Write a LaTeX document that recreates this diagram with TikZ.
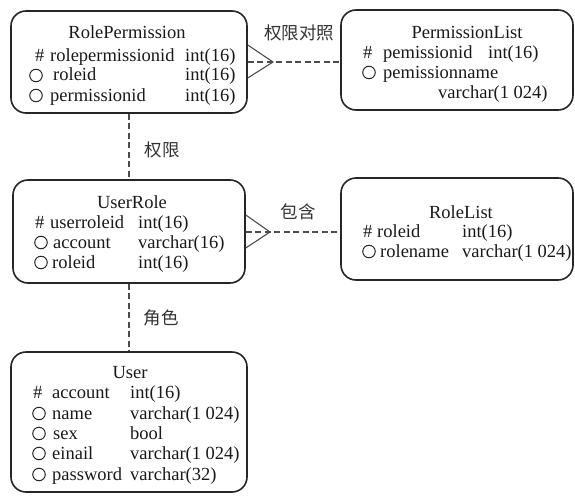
\documentclass[tikz,border=0pt]{standalone}
\usepackage{fontspec}
\setmainfont{Liberation Serif}
\newfontfamily\cjk{Noto Sans CJK SC}
\begin{document}
\begin{tikzpicture}[x=1pt,y=-1pt,
  box/.style={draw=black!85,line width=1.6pt,rounded corners=15pt,inner sep=0pt},
  txt/.style={anchor=base west,inner sep=0pt,font=\fontsize{18.5}{20}\selectfont,text=black!90},
  ttl/.style={anchor=base,inner sep=0pt,font=\fontsize{18.5}{20}\selectfont,text=black!90},
  lbl/.style={inner sep=0pt,font=\cjk\fontsize{17.5}{20}\selectfont,text=black!80},
  ocirc/.style={circle,draw=black!85,line width=1pt,minimum size=12.5pt,inner sep=0pt},
  rel/.style={draw=black!70,line width=1.1pt,dash pattern=on 6pt off 3.5pt},
  foot/.style={draw=black!70,line width=1.1pt}]
\useasboundingbox (0,0) rectangle (575,495);

% boxes
\node[box,minimum width=236pt,minimum height=102pt] (rp) at (129,62) {};
\node[box,minimum width=232pt,minimum height=100pt] (pl) at (457,60) {};
\node[box,minimum width=232pt,minimum height=103pt] (ur) at (129,231.5) {};
\node[box,minimum width=232pt,minimum height=102pt] (rl) at (457,229) {};
\node[box,minimum width=236pt,minimum height=140pt] (us) at (129,422) {};

% RolePermission
\node[ttl] (rpt) at (127,38) {RolePermission};
\node[txt] (rp1a) at (35,62) {\#};
\node[txt] (rp1b) at (50,62) {rolepermissionid};
\node[txt] (rp1c) at (185,62) {int(16)};
\node[ocirc] (rp2a) at (36,75.5) {};
\node[txt] (rp2b) at (53,81) {roleid};
\node[txt] (rp2c) at (185,81) {int(16)};
\node[ocirc] (rp3a) at (36,95.5) {};
\node[txt] (rp3b) at (50,101) {permissionid};
\node[txt] (rp3c) at (185,101) {int(16)};

% PermissionList
\node[ttl] (plt) at (467,38) {PermissionList};
\node[txt] (pl1a) at (363,59) {\#};
\node[txt] (pl1b) at (383,59) {pemissionid};
\node[txt] (pl1c) at (488,59) {int(16)};
\node[ocirc] (pl2a) at (369,72.5) {};
\node[txt] (pl2b) at (383,78) {pemissionname};
\node[txt] (pl3c) at (438,98) {varchar(1\ 024)};

% UserRole
\node[ttl] (urt) at (132,208) {UserRole};
\node[txt] (ur1a) at (35,228) {\#};
\node[txt] (ur1b) at (50,228) {userroleid};
\node[txt] (ur1c) at (138,228) {int(16)};
\node[ocirc] (ur2a) at (41,242.5) {};
\node[txt] (ur2b) at (53,248) {account};
\node[txt] (ur2c) at (138,248) {varchar(16)};
\node[ocirc] (ur3a) at (41,262.5) {};
\node[txt] (ur3b) at (52,268) {roleid};
\node[txt] (ur3c) at (138,268) {int(16)};

% RoleList
\node[ttl] (rlt) at (461,218) {RoleList};
\node[txt] (rl1a) at (363,237) {\#};
\node[txt] (rl1b) at (377,237) {roleid};
\node[txt] (rl1c) at (462,237) {int(16)};
\node[ocirc] (rl2a) at (369,251.5) {};
\node[txt] (rl2b) at (380,257) {rolename};
\node[txt] (rl2c) at (462,257) {varchar(1\ 024)};

% User
\node[ttl] (ust) at (130,378) {User};
\node[txt] (us1a) at (33,398) {\#};
\node[txt] (us1b) at (52,398) {account};
\node[txt] (us1c) at (130,398) {int(16)};
\node[ocirc] (us2a) at (39,413.5) {};
\node[txt] (us2b) at (52,419) {name};
\node[txt] (us2c) at (130,419) {varchar(1\ 024)};
\node[ocirc] (us3a) at (39,433.5) {};
\node[txt] (us3b) at (53,439) {sex};
\node[txt] (us3c) at (130,439) {bool};
\node[ocirc] (us4a) at (39,453.5) {};
\node[txt] (us4b) at (52,459) {einail};
\node[txt] (us4c) at (130,459) {varchar(1\ 024)};
\node[ocirc] (us5a) at (39,474.5) {};
\node[txt] (us5b) at (52,480) {password};
\node[txt] (us5c) at (130,480) {varchar(32)};

% connectors
\coordinate (f1a) at (rp.east |- 0,45);
\coordinate (f1b) at (rp.east |- 0,78);
\coordinate (f1m) at (rp.east |- 0,62);
\coordinate (f1p) at (273,62);
\coordinate (f1e) at (pl.west |- 0,62);
\draw[foot] (f1a) -- (f1p) -- (f1b);
\draw[rel] (f1m) -- (f1e);

\coordinate (f2a) at (ur.east |- 0,215);
\coordinate (f2b) at (ur.east |- 0,248);
\coordinate (f2m) at (ur.east |- 0,232);
\coordinate (f2p) at (270,232);
\coordinate (f2e) at (rl.west |- 0,232);
\draw[foot] (f2a) -- (f2p) -- (f2b);
\draw[rel] (f2m) -- (f2e);

\draw[rel] (rp.south) -- (ur.north);
\draw[rel] (ur.south) -- (us.north);

% labels
\node[lbl] (l1) at (299,33) {权限对照};
\node[lbl] (l2) at (162,150) {权限};
\node[lbl] (l3) at (298,212) {包含};
\node[lbl] (l4) at (161,318) {角色};
\end{tikzpicture}
\end{document}
